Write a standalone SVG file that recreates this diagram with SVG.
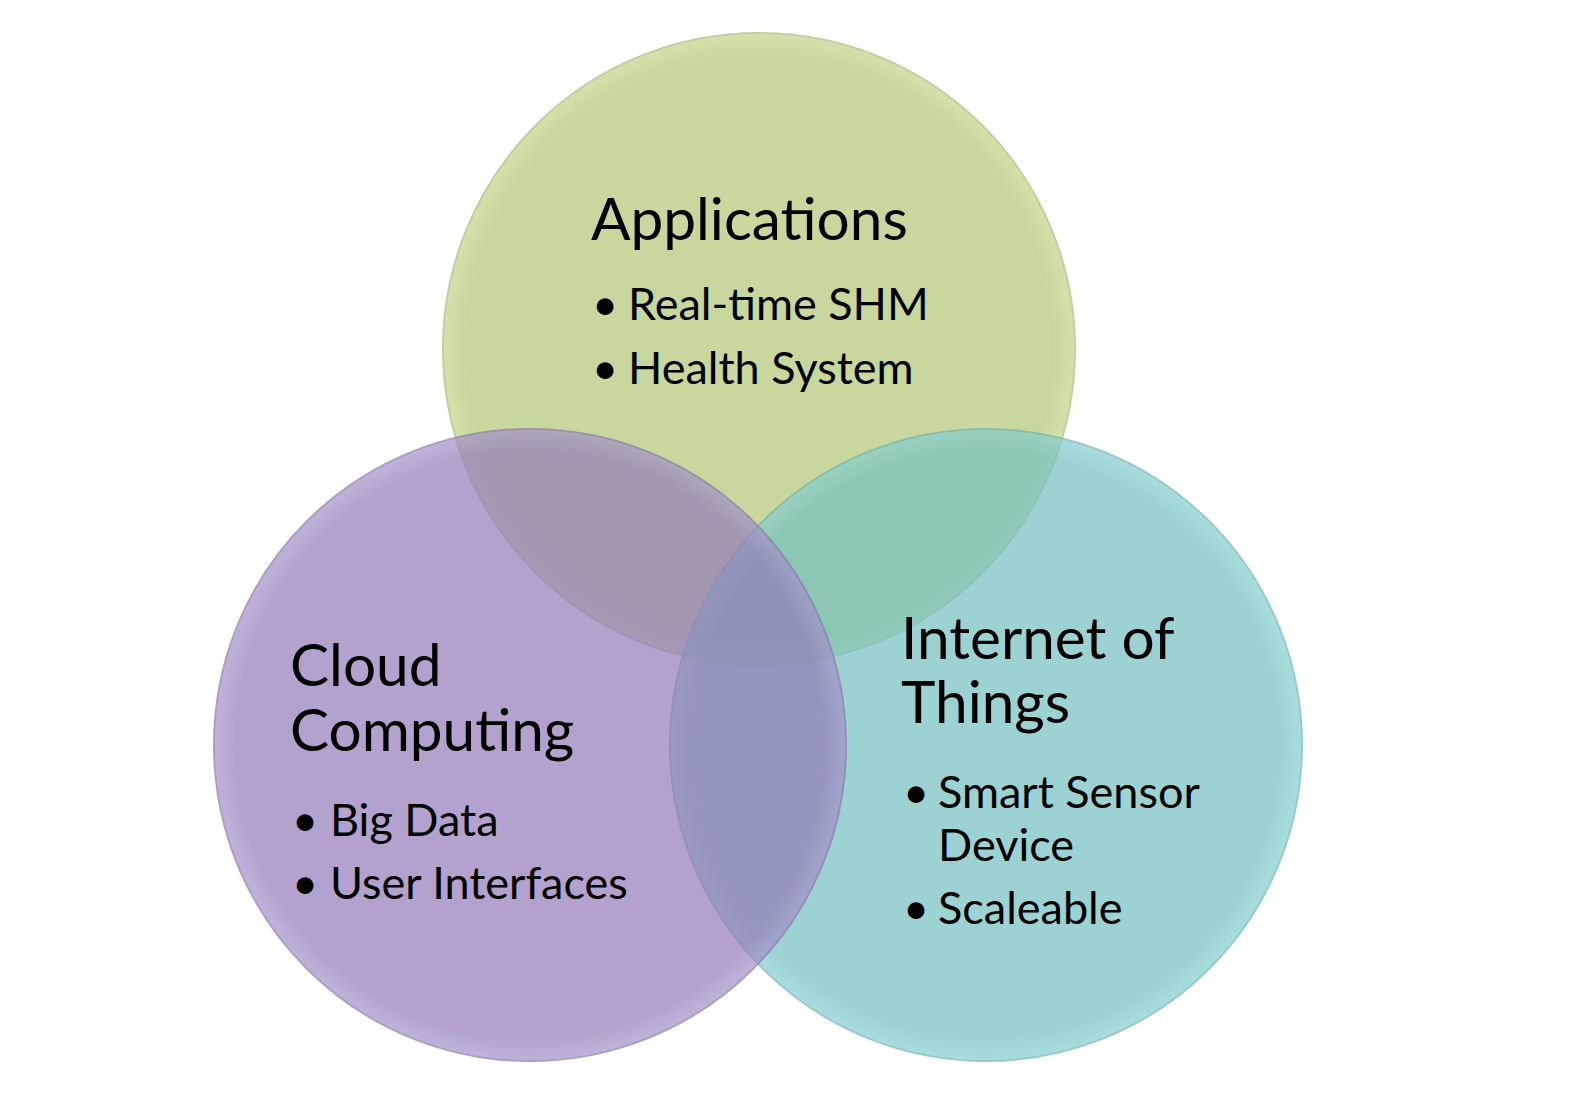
<svg xmlns="http://www.w3.org/2000/svg" width="1574" height="1096" viewBox="0 0 1574 1096">
<style>
.title{font-family:Lato,"Liberation Sans",sans-serif;font-size:58.5px;fill:#000}
.item{font-family:Lato,"Liberation Sans",sans-serif;font-size:45px;fill:#000}
.circ{opacity:0.7;stroke-width:2}
</style>
<defs>
<radialGradient id="gG" cx="0.5" cy="0.5" r="0.5">
<stop offset="0.93" stop-color="#b2c774"/>
<stop offset="1" stop-color="#c3d58a"/>
</radialGradient>
<radialGradient id="gP" cx="0.5" cy="0.5" r="0.5">
<stop offset="0.93" stop-color="#927cb8"/>
<stop offset="1" stop-color="#a593c8"/>
</radialGradient>
<radialGradient id="gT" cx="0.5" cy="0.5" r="0.5">
<stop offset="0.93" stop-color="#73c0c0"/>
<stop offset="1" stop-color="#86d0d0"/>
</radialGradient>
</defs>
<rect width="1574" height="1096" fill="#ffffff"/>
<g id="applications">
<circle class="circ" cx="759" cy="349" r="316" fill="url(#gG)" stroke="#a9bb78"/>
</g>
<g id="iot">
<circle class="circ" cx="986" cy="745" r="316" fill="url(#gT)" stroke="#6fb3b3"/>
</g>
<g id="cloud">
<circle class="circ" cx="530" cy="745" r="316" fill="url(#gP)" stroke="#8a76b0"/>
</g>
<g id="connectors"/>
<g id="applications-text">
<text class="title" x="591" y="240">Applications</text>
<text class="item" x="592" y="320">•</text>
<text class="item" x="628" y="320">Real-time SHM</text>
<text class="item" x="592" y="384">•</text>
<text class="item" x="628" y="384">Health System</text>
</g>
<g id="cloud-text">
<text class="title" x="290" y="686">Cloud</text>
<text class="title" x="290" y="751">Computing</text>
<text class="item" x="292" y="836">•</text>
<text class="item" x="330" y="836">Big Data</text>
<text class="item" x="292" y="899">•</text>
<text class="item" x="330" y="899">User Interfaces</text>
</g>
<g id="iot-text">
<text class="title" x="901" y="659">Internet of</text>
<text class="title" x="901" y="723">Things</text>
<text class="item" x="903" y="808">•</text>
<text class="item" x="938" y="808">Smart Sensor</text>
<text class="item" x="938" y="861">Device</text>
<text class="item" x="903" y="924">•</text>
<text class="item" x="938" y="924">Scaleable</text>
</g>
</svg>
